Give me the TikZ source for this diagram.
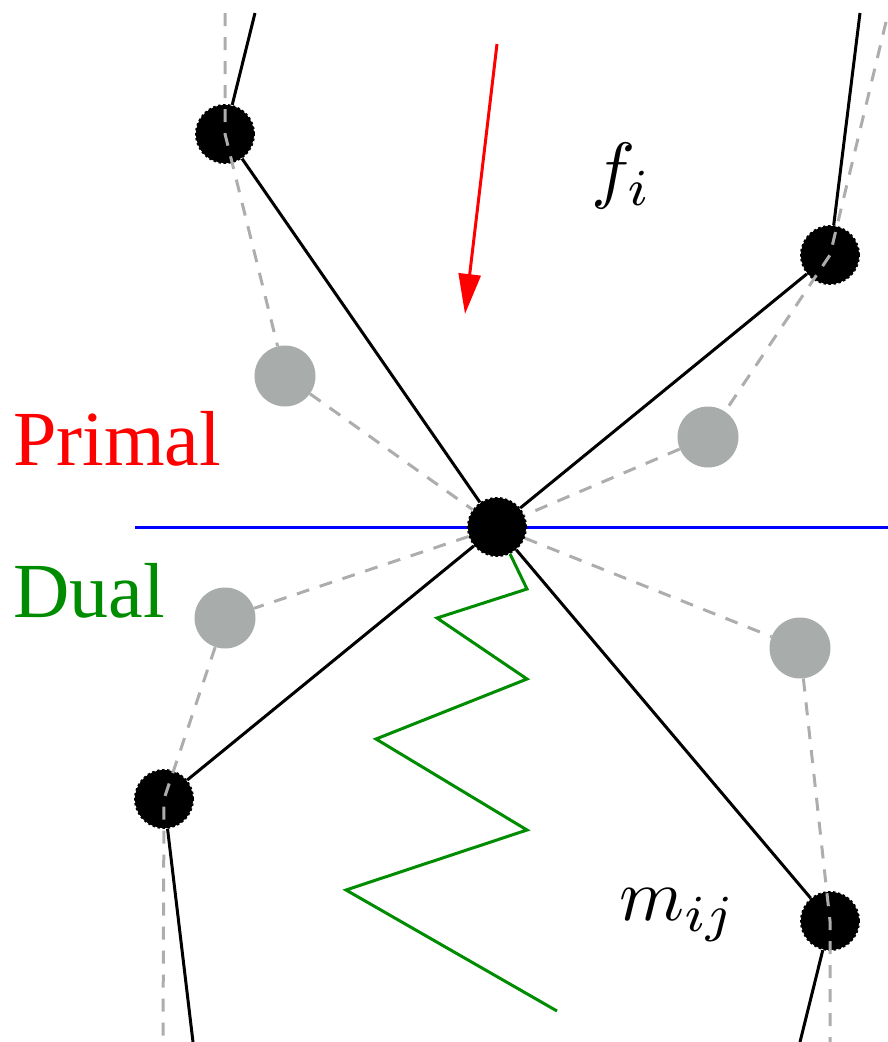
\documentclass[tikz,border=0pt]{standalone}
\usepackage{amsmath}
\usepackage{fontspec}
\newfontfamily\wordfont{Liberation Serif}
\usetikzlibrary{arrows.meta,backgrounds}
\definecolor{dualgray}{RGB}{168,173,171}
\definecolor{dashgray}{RGB}{172,174,173}
\definecolor{dualgreen}{RGB}{0,140,0}

\begin{document}
\begin{tikzpicture}[x=1pt,y=-1pt,
    vtx/.style={circle,fill=black,draw=black,line width=2pt,dash pattern=on 2.5pt off 2.5pt,minimum size=58pt,inner sep=0pt},
    dpt/.style={circle,fill=dualgray,minimum size=61pt,inner sep=0pt},
    prim/.style={line width=3pt},
    dualedge/.style={line width=3pt,dashgray,dash pattern=on 13pt off 11pt},
    lbl/.style={inner sep=0pt,anchor=base west,font=\wordfont\fontsize{78}{80}\selectfont},
    mlbl/.style={inner sep=0pt,anchor=base west,scale=7.4}
]
\useasboundingbox (0,0) rectangle (888,1042);

% primal vertices
\node[vtx] (c) at (497,527) {};
\node[vtx] (v1) at (225,134) {};
\node[vtx] (v2) at (830,255) {};
\node[vtx] (v3) at (164,799) {};
\node[vtx] (v4) at (830,921) {};

% dual points
\node[dpt] (d1) at (285,376) {};
\node[dpt] (d2) at (708,437) {};
\node[dpt] (d3) at (225,618) {};
\node[dpt] (d4) at (800,648) {};

% free ends
\coordinate (t1) at (255,13);
\coordinate (t2) at (860,13);
\coordinate (b3) at (193,1042);
\coordinate (b4) at (800,1042);
\coordinate (s1) at (225,13);
\coordinate (s2) at (886,22);
\coordinate (s3) at (163,1042);
\coordinate (s4) at (830,1042);
\coordinate (hl) at (135,527);
\coordinate (hr) at (888,527);
\coordinate (a1) at (497,44);
\coordinate (a2) at (465,314);

\begin{scope}[on background layer]
\draw[prim] (t1) -- (v1) -- (c);
\draw[prim] (t2) -- (v2) -- (c);
\draw[prim] (c) -- (v3) -- (b3);
\draw[prim] (c) -- (v4) -- (b4);
\draw[line width=3pt,blue] (hl) -- (hr);
\end{scope}

\draw[dualedge] (s1) -- (v1.center) -- (d1) -- (c);
\draw[dualedge] (s2) -- (v2.center) -- (d2) -- (c);
\draw[dualedge] (c) -- (d3) -- (v3.center) -- (s3);
\draw[dualedge] (c) -- (d4) -- (v4.center) -- (s4);

\draw[line width=3pt,red,-{Triangle[length=40pt,width=22pt]}] (a1) -- (a2);

\draw[line width=3pt,dualgreen] (c) -- (527,589) -- (437,618) -- (527,679) -- (376,739)
    -- (527,830) -- (346,890) -- (557,1011);

\node[lbl,text=red] (primal) at (13,465) {Primal};
\node[lbl,text=dualgreen] (dual) at (13,617) {Dual};
\node[mlbl] (fi) at (590,194) {$f_i$};
\node[mlbl] (mij) at (618,920) {$m_{ij}$};
\end{tikzpicture}
\end{document}
